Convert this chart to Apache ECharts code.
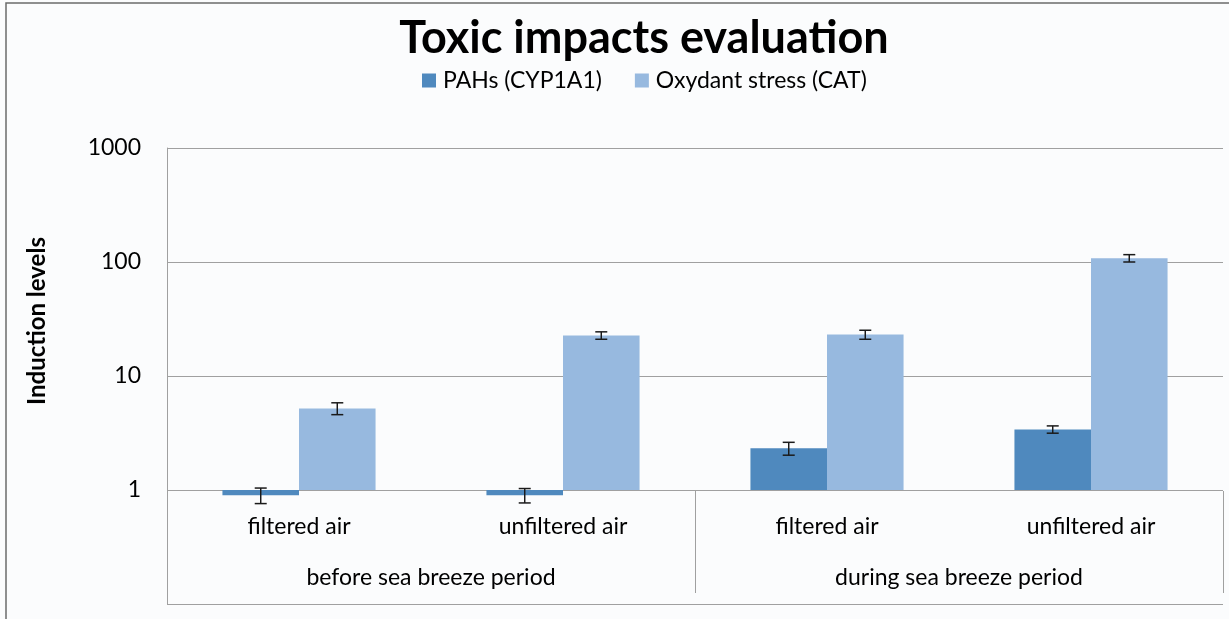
<!DOCTYPE html>
<html>
<head>
<meta charset="utf-8">
<title>Toxic impacts evaluation</title>
<script src="https://cdn.jsdelivr.net/npm/echarts@6/dist/echarts.min.js"></script>
<style>
  html, body { margin: 0; padding: 0; background: #fbfcfd; }
  #chart { width: 1229px; height: 619px; }
</style>
</head>
<body>
<div id="chart"></div>
<script>
// data
const categories = ['filtered air', 'unfiltered air', 'filtered air', 'unfiltered air'];
const periods = ['before sea breeze period', 'during sea breeze period'];
const seriesNames = ['PAHs (CYP1A1)', 'Oxydant stress (CAT)'];
const pahValues = [0.90, 0.90, 2.32, 3.40];
const pahErrors = [0.14, 0.13, 0.30, 0.25];
const catValues = [5.2, 22.7, 23.1, 108];
const catErrors = [0.62, 1.7, 2.1, 8];

const colors = ['#4f89be', '#97b9df'];
const font = 'Lato, "Liberation Sans", sans-serif';
const gapRatio = 0.42;

const chart = echarts.init(document.getElementById('chart'));

// error bar drawn around each bar, side = -1 (left bar) or 1 (right bar)
function errorBar(side) {
  return function (params, api) {
    const band = params.coordSys.width / categories.length;
    const barW = band * (1 - gapRatio) / 2;
    const cx = api.coord([api.value(0), 1])[0] + side * barW / 2;
    const lo = api.coord([api.value(0), api.value(1)])[1];
    const hi = api.coord([api.value(0), api.value(2)])[1];
    const cap = 6;
    const style = { stroke: '#1a1a1a', lineWidth: 1.5 };
    return {
      type: 'group',
      children: [
        { type: 'line', shape: { x1: cx, y1: lo, x2: cx, y2: hi }, style: style },
        { type: 'line', shape: { x1: cx - cap, y1: lo, x2: cx + cap, y2: lo }, style: style },
        { type: 'line', shape: { x1: cx - cap, y1: hi, x2: cx + cap, y2: hi }, style: style }
      ]
    };
  };
}

function errData(vals, errs) {
  return vals.map(function (v, i) { return [i, v - errs[i], v + errs[i]]; });
}

chart.setOption({
  backgroundColor: '#fbfcfd',
  animation: false,
  textStyle: { fontFamily: font },
  graphic: [
    {
      type: 'rect',
      shape: { x: 6, y: 3, width: 1400, height: 800 },
      style: { fill: 'none', stroke: '#6b6b6b', lineWidth: 1.5 },
      silent: true
    },
    {
      type: 'text',
      x: 644,
      y: 38,
      style: {
        text: 'Toxic impacts evaluation',
        font: 'bold 45px ' + font,
        fill: '#000',
        align: 'center',
        verticalAlign: 'middle'
      }
    },
    {
      type: 'text',
      x: 37,
      y: 321,
      rotation: Math.PI / 2,
      style: {
        text: 'Induction levels',
        font: 'bold 24px ' + font,
        fill: '#000',
        align: 'center',
        verticalAlign: 'middle'
      }
    }
  ],
  legend: {
    data: seriesNames,
    left: 422,
    top: 69,
    padding: 0,
    itemWidth: 14,
    itemHeight: 14,
    itemGap: 33,
    icon: 'rect',
    textStyle: { fontSize: 23, color: '#000', fontFamily: font, padding: [0, 0, 0, 2] }
  },
  grid: { left: 167, right: 6, top: 148, bottom: 15 },
  xAxis: [
    {
      type: 'category',
      data: categories,
      position: 'bottom',
      offset: -113,
      axisLine: { show: false, onZero: false },
      axisTick: { show: false },
      axisLabel: { margin: 24, fontSize: 23, color: '#000', interval: 0 }
    },
    {
      type: 'category',
      data: periods,
      position: 'bottom',
      offset: -113,
      axisLine: { show: false, onZero: false },
      axisTick: { show: true, interval: 0, length: 102, lineStyle: { color: '#a0a0a0', width: 1 } },
      axisLabel: { margin: 75, fontSize: 23, color: '#000', interval: 0 }
    }
  ],
  yAxis: {
    type: 'log',
    logBase: 10,
    min: 0.1,
    max: 1000,
    axisLine: { show: true, onZero: false, lineStyle: { color: '#a0a0a0', width: 1 } },
    axisTick: { show: false },
    splitLine: { show: true, lineStyle: { color: '#a0a0a0', width: 1 } },
    axisLabel: {
      margin: 26,
      fontSize: 23,
      color: '#000',
      formatter: function (v) { return v < 1 ? '' : String(Math.round(v)); }
    }
  },
  series: [
    {
      name: seriesNames[0],
      type: 'bar',
      xAxisIndex: 0,
      data: pahValues,
      barGap: '0%',
      barCategoryGap: gapRatio * 100 + '%',
      itemStyle: { color: colors[0] }
    },
    {
      name: seriesNames[1],
      type: 'bar',
      xAxisIndex: 0,
      data: catValues,
      barGap: '0%',
      barCategoryGap: gapRatio * 100 + '%',
      itemStyle: { color: colors[1] }
    },
    {
      type: 'custom',
      xAxisIndex: 0,
      renderItem: errorBar(-1),
      data: errData(pahValues, pahErrors),
      z: 10
    },
    {
      type: 'custom',
      xAxisIndex: 0,
      renderItem: errorBar(1),
      data: errData(catValues, catErrors),
      z: 10
    }
  ]
});
</script>
</body>
</html>
